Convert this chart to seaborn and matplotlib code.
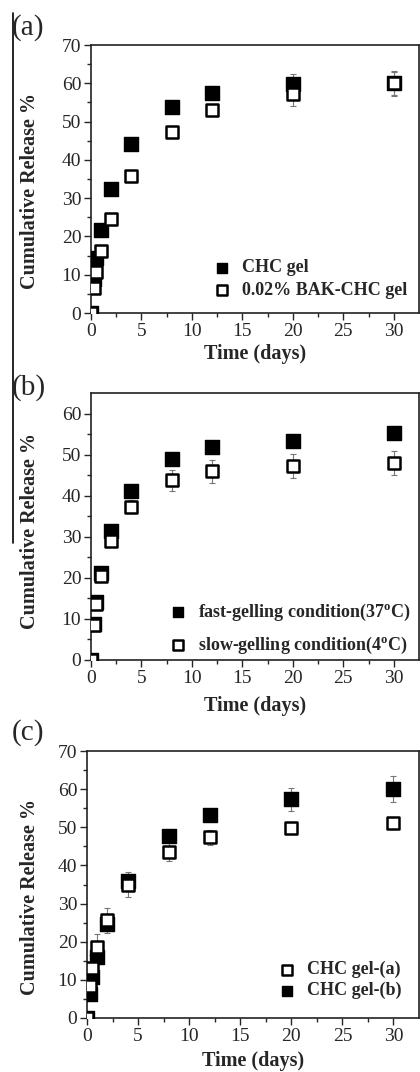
import numpy as np
import matplotlib
matplotlib.use('Agg')
import matplotlib.pyplot as plt
from matplotlib.lines import Line2D
import seaborn as sns

# sampling times (days)
days = [0, 0.25, 0.5, 1, 2, 4, 8, 12, 20, 30]

# panel (a)
chc_gel = [0, 8.8, 14.4, 21.8, 32.3, 44.2, 53.8, 57.5, 59.8, 60.0]
chc_gel_err = [0, 1.0, 1.0, 0.5, 0.5, 0.5, 1.5, 1.0, 2.7, 3.3]
bak_gel = [0, 6.4, 10.8, 16.2, 24.6, 35.9, 47.4, 52.9, 57.2, 60.0]
bak_gel_err = [0, 0.8, 0.8, 0.5, 0.5, 0.5, 0.5, 0.5, 3.2, 3.0]

# panel (b)
fast_gel = [0, 8.7, 14.0, 21.2, 31.3, 41.1, 49.0, 51.8, 53.2, 55.2]
fast_gel_err = [0, 0.5, 0.5, 0.5, 0.5, 1.0, 1.0, 1.0, 1.0, 1.0]
slow_gel = [0, 8.5, 13.6, 20.5, 29.0, 37.3, 43.7, 46.0, 47.3, 48.0]
slow_gel_err = [0, 0.8, 0.8, 0.5, 0.8, 1.6, 2.6, 2.8, 2.9, 3.0]

# panel (c)
gel_a = [0, 8.3, 13.1, 18.5, 25.6, 34.9, 43.6, 47.4, 49.7, 51.1]
gel_a_err = [0, 1.0, 3.5, 3.6, 3.3, 3.3, 2.5, 2.0, 1.5, 1.5]
gel_b = [0, 6.4, 10.7, 16.1, 24.6, 36.0, 47.6, 53.1, 57.3, 60.0]
gel_b_err = [0, 1.5, 1.5, 1.0, 1.0, 1.0, 1.0, 1.0, 3.0, 3.4]

sns.set_style('ticks')
plt.rcParams['font.family'] = ['Liberation Serif', 'DejaVu Serif']
plt.rcParams['mathtext.fontset'] = 'custom'
plt.rcParams['mathtext.rm'] = 'Liberation Serif'
plt.rcParams['mathtext.bf'] = 'Liberation Serif:bold'

W, H = 420, 1072
fig = plt.figure(figsize=(W / 100, H / 100), dpi=100)


def px_axes(left, top, right, bottom):
    return fig.add_axes([left / W, 1 - bottom / H, (right - left) / W, (bottom - top) / H])


def series(ax, y, err, filled, label):
    if filled:
        sns.scatterplot(x=days, y=y, ax=ax, marker='s', s=95, color='black',
                        edgecolor='black', linewidth=1.0, label=label, zorder=3)
    else:
        sns.scatterplot(x=days, y=y, ax=ax, marker='s', s=80, facecolor='white',
                        edgecolor='black', linewidth=1.8, label=label, zorder=3)
    ax.errorbar(days, y, yerr=err, fmt='none', ecolor='#777777', elinewidth=0.8,
                capsize=2.5, capthick=0.8, zorder=2)


def style(ax, ymax, ylab_xy, xlab_y):
    ax.set_xlim(0, 32.5)
    ax.set_ylim(0, ymax)
    ax.set_xticks(np.arange(0, 31, 5))
    ax.set_xticks(np.arange(2.5, 31, 5), minor=True)
    ax.set_yticks(np.arange(0, ymax + 1, 10))
    ax.set_yticks(np.arange(5, ymax, 10), minor=True)
    ax.tick_params(which='major', direction='out', length=5, width=1, labelsize=14, pad=2)
    ax.tick_params(which='minor', direction='out', length=3, width=1)
    for sp in ax.spines.values():
        sp.set_color('#222222')
        sp.set_linewidth(1.2)
    ax.set_xlabel('Time (days)', fontsize=14.5, fontweight='bold')
    ax.set_ylabel('Cumulative Release %', fontsize=14.5, fontweight='bold')
    ax.yaxis.set_label_coords(*ylab_xy)
    ax.xaxis.set_label_coords(0.5, xlab_y)


def legend(ax, anchor, spacing, order=None):
    handles, labels = ax.get_legend_handles_labels()
    if order:
        handles = [handles[i] for i in order]
        labels = [labels[i] for i in order]
    ax.legend(handles, labels, loc='upper left', bbox_to_anchor=anchor, frameon=False,
              borderaxespad=0, borderpad=0, handlelength=1.0, handletextpad=0.6,
              labelspacing=spacing, markerscale=0.75,
              prop={'family': 'Liberation Serif', 'weight': 'bold', 'size': 13})


# (a)
ax1 = px_axes(91, 45, 419, 313)
series(ax1, chc_gel, chc_gel_err, True, 'CHC gel')
series(ax1, bak_gel, bak_gel_err, False, '0.02% BAK-CHC gel')
style(ax1, 70, (-0.155, 0.455), -0.116)
legend(ax1, (0.372, 0.20), 0.3)

# (b)
ax2 = px_axes(91, 393, 419, 660)
series(ax2, fast_gel, fast_gel_err, True, r'fast-gelling condition(37$^{\mathbf{o}}$C)')
series(ax2, slow_gel, slow_gel_err, False, r'slow-gelling condition(4$^{\mathbf{o}}$C)')
style(ax2, 65, (-0.155, 0.485), -0.135)
legend(ax2, (0.238, 0.217), 0.65)

# (c)
ax3 = px_axes(87, 751, 419, 1018)
series(ax3, gel_b, gel_b_err, True, 'CHC gel-(b)')
series(ax3, gel_a, gel_a_err, False, 'CHC gel-(a)')
style(ax3, 70, (-0.142, 0.453), -0.124)
legend(ax3, (0.575, 0.213), 0.2, order=[1, 0])

# panel letters and the stray frame line of the source figure
for lab, yc in [('(a)', 28), ('(b)', 388), ('(c)', 733)]:
    fig.text(12 / W, 1 - yc / H, lab, fontsize=21, ha='left', va='center')
fig.add_artist(Line2D([13 / W, 13 / W], [1 - 13 / H, 1 - 543 / H], color='black', lw=1.2))

fig.savefig('out.png', dpi=100)
